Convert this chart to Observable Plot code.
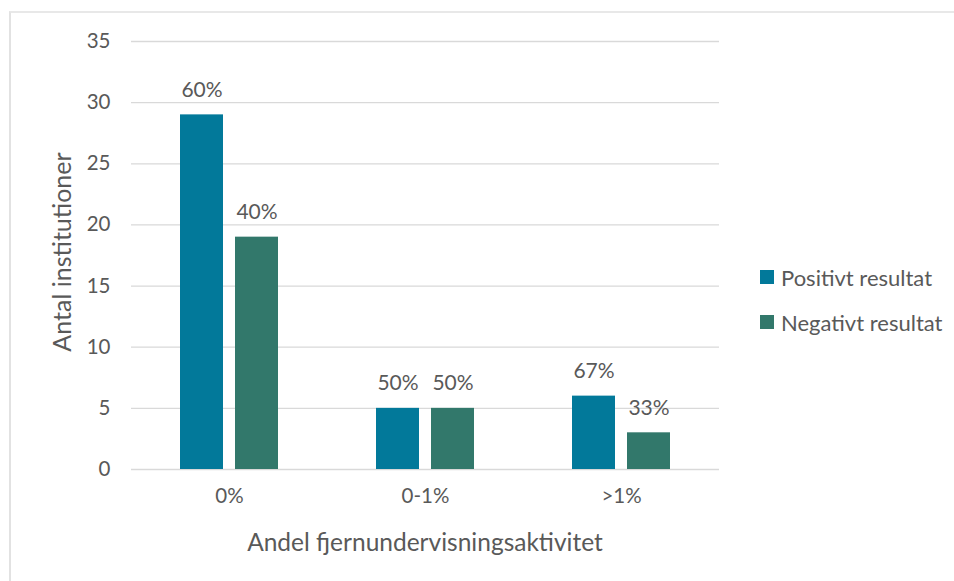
<!DOCTYPE html>
<html>
<head>
<meta charset="utf-8">
<script src="https://cdn.jsdelivr.net/npm/d3@7"></script>
<script src="https://cdn.jsdelivr.net/npm/@observablehq/plot@0.6"></script>
<style>
  html, body { margin: 0; padding: 0; background: #fff; }
  #wrap { position: relative; width: 954px; height: 581px; overflow: hidden; font-family: Lato, "Open Sans", sans-serif; color: #595959; }
  #frame { position: absolute; left: 9px; top: 11px; right: -10px; bottom: -10px; border-left: 2px solid #e2e2e2; border-top: 2px solid #e8e8e8; }
  #chart { position: absolute; left: 0; top: 0; }
  .ytitle { position: absolute; left: 61px; top: 252px; transform: translate(-50%, -50%) rotate(-90deg); font-size: 25px; white-space: nowrap; }
  .xtitle { position: absolute; left: 425px; top: 541px; transform: translate(-50%, -50%); font-size: 24.5px; white-space: nowrap; }
  .legend { position: absolute; left: 760px; font-size: 22px; white-space: nowrap; display: flex; align-items: center; }
  .legend span.sw { display: inline-block; width: 14px; height: 14px; margin-right: 7px; }
</style>
</head>
<body>
<div id="wrap">
  <div id="frame"></div>
  <div id="chart"></div>
  <div class="ytitle">Antal institutioner</div>
  <div class="xtitle">Andel fjernundervisningsaktivitet</div>
  <div id="legend"></div>
</div>
<script>
const categories = ["0%", "0-1%", ">1%"];
const seriesNames = ["Positivt resultat", "Negativt resultat"];
const positiveValues = [29, 5, 6];
const negativeValues = [19, 5, 3];
const positiveLabels = ["60%", "50%", "67%"];
const negativeLabels = ["40%", "50%", "33%"];
const yTicks = [0, 5, 10, 15, 20, 25, 30, 35];
const colors = ["#02799A", "#32786B"];

const data = [];
categories.forEach((c, i) => {
  data.push({category: c, series: seriesNames[0], value: positiveValues[i], label: positiveLabels[i]});
  data.push({category: c, series: seriesNames[1], value: negativeValues[i], label: negativeLabels[i]});
});

const textColor = "#595959";
const chart = Plot.plot({
  width: 954,
  height: 581,
  marginLeft: 130,
  marginRight: 234,
  marginTop: 41,
  marginBottom: 112,
  style: {fontFamily: "Lato, 'Open Sans', sans-serif", color: textColor, background: "transparent"},
  fx: {domain: categories, padding: 0, label: null},
  x: {domain: seriesNames, paddingInner: 0.214, paddingOuter: 0.863, axis: null},
  y: {domain: [0, 35], ticks: yTicks, label: null},
  color: {domain: seriesNames, range: colors},
  marks: [
    Plot.gridY(yTicks, {stroke: "#d9d9d9", strokeOpacity: 1, strokeWidth: 1.3}),
    Plot.axisY(yTicks, {tickSize: 0, tickPadding: 21, fontSize: 20.5, fill: textColor, label: null}),
    Plot.axisFx({anchor: "bottom", tickSize: 0, tickPadding: 19, fontSize: 20.5, fill: textColor, label: null}),
    Plot.barY(data, {fx: "category", x: "series", y: "value", fill: "series"}),
    Plot.text(data, {fx: "category", x: "series", y: "value", text: "label", lineAnchor: "bottom", dy: -18, fontSize: 21, fill: textColor})
  ]
});
document.getElementById("chart").appendChild(chart);

const legend = document.getElementById("legend");
const legendTops = [277, 322];
seriesNames.forEach((name, i) => {
  const row = document.createElement("div");
  row.className = "legend";
  row.style.top = (legendTops[i] - 14) + "px";
  row.style.height = "28px";
  const sw = document.createElement("span");
  sw.className = "sw";
  sw.style.background = colors[i];
  row.appendChild(sw);
  row.appendChild(document.createTextNode(name));
  legend.appendChild(row);
});
</script>
</body>
</html>
